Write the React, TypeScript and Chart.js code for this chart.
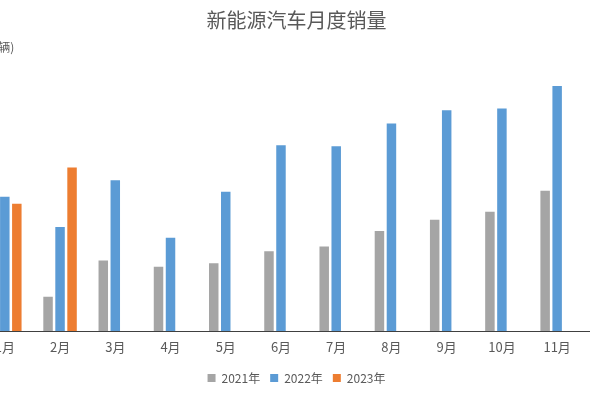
import React, { useEffect, useRef } from "react";
import { Chart, registerables } from "chart.js";

Chart.register(...registerables);

const months = ["1月", "2月", "3月", "4月", "5月", "6月", "7月", "8月", "9月", "10月", "11月", "12月"];
const sales2021 = [17.9, 11.0, 22.6, 20.6, 21.7, 25.6, 27.1, 32.1, 35.7, 38.3, 45.0, null];
const sales2022 = [43.1, 33.4, 48.4, 29.9, 44.7, 59.6, 59.3, 66.6, 70.8, 71.4, 78.6, null];
const sales2023 = [40.8, 52.5, null, null, null, null, null, null, null, null, null, null];
const seriesNames = ["2021年", "2022年", "2023年"];
const titleText = "新能源汽车月度销量";
const unitText = "(万辆)";

const FONT = "'Noto Sans CJK SC', 'Noto Sans', sans-serif";

export default function App() {
  const ref = useRef<HTMLCanvasElement | null>(null);

  useEffect(() => {
    if (!ref.current) return;
    const unitPlugin = {
      id: "unitLabel",
      afterDraw(chart: any) {
        const ctx = chart.ctx;
        ctx.save();
        ctx.font = `12px ${FONT}`;
        ctx.fillStyle = "#595959";
        ctx.textAlign = "right";
        ctx.textBaseline = "middle";
        ctx.fillText(unitText, chart.chartArea.left + 37, 47);
        ctx.restore();
      },
    };
    const chart = new Chart(ref.current, {
      type: "bar",
      data: {
        labels: months,
        datasets: [
          { label: seriesNames[0], data: sales2021, backgroundColor: "#a5a5a5" },
          { label: seriesNames[1], data: sales2022, backgroundColor: "#5b9bd5" },
          { label: seriesNames[2], data: sales2023, backgroundColor: "#ed7d31" },
        ],
      },
      options: {
        responsive: false,
        animation: false,
        layout: { padding: { left: 33, right: 33, top: 0, bottom: 1 } },
        datasets: {
          bar: { categoryPercentage: 0.652, barPercentage: 0.79 },
        },
        plugins: {
          title: {
            display: true,
            text: titleText,
            color: "#595959",
            font: { family: FONT, size: 20, weight: "normal" },
            padding: { top: 8.5, bottom: 18 },
          },
          legend: {
            position: "bottom",
            labels: {
              boxWidth: 8,
              boxHeight: 8,
              color: "#595959",
              font: { family: FONT, size: 12 },
              padding: 10,
            },
          },
          tooltip: { enabled: false },
        },
        scales: {
          x: {
            grid: { display: false, drawTicks: false },
            border: { display: true, color: "#404040", width: 1 },
            ticks: { color: "#595959", font: { family: FONT, size: 13 }, padding: 8.5, maxRotation: 0 },
            afterFit: (s: any) => {
              s.height = 31;
            },
          },
          y: {
            display: true,
            min: 0,
            max: 90,
            ticks: { display: false },
            grid: { display: false, drawTicks: false },
            border: { display: false },
            afterFit: (s: any) => {
              s.width = 24.2;
            },
          },
        },
      },
      plugins: [unitPlugin],
    });
    return () => chart.destroy();
  }, []);

  return (
    <div style={{ position: "fixed", left: 0, top: 0, width: 590, height: 395, overflow: "hidden", background: "#fff" }}>
      <canvas ref={ref} width={753} height={395} style={{ position: "absolute", left: -80, top: 0 }} />
    </div>
  );
}
